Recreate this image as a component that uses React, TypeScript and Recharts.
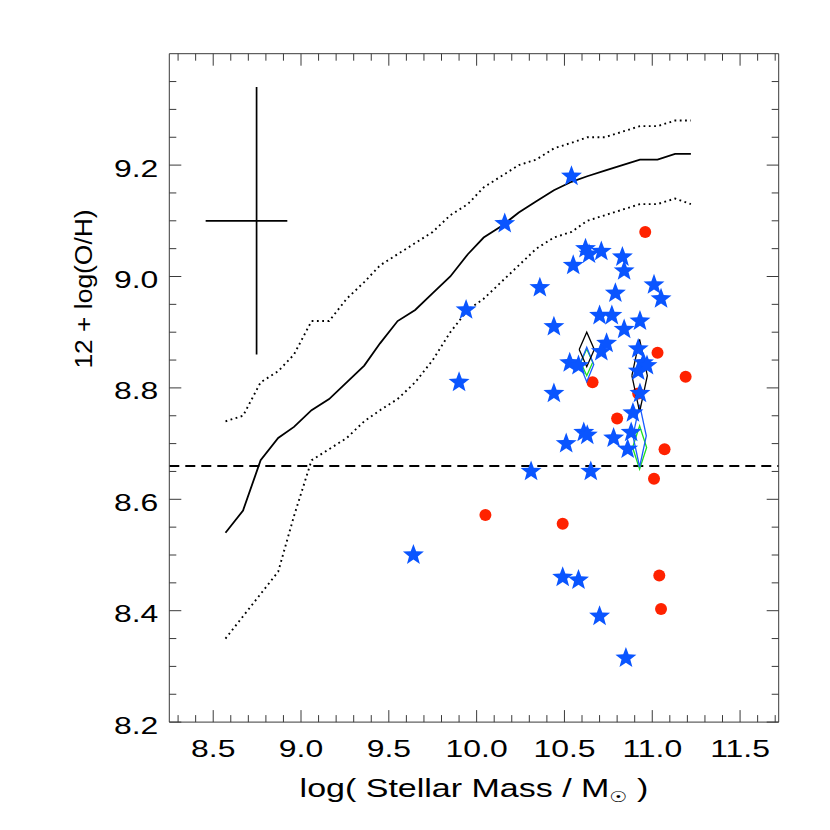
import React from 'react';
import { ScatterChart, Scatter, XAxis, YAxis, ReferenceLine, ErrorBar, Label } from 'recharts';

// mass grid of the binned relation (log M*)
const massGrid = [8.57, 8.67, 8.77, 8.87, 8.96, 9.06, 9.16, 9.26, 9.36, 9.45, 9.55, 9.65, 9.75, 9.85,
  9.95, 10.04, 10.14, 10.24, 10.34, 10.44, 10.54, 10.63, 10.73, 10.83, 10.93, 11.03, 11.13, 11.22];
const medianOH = [8.54, 8.58, 8.67, 8.71, 8.73, 8.76, 8.78, 8.81, 8.84, 8.88, 8.92, 8.94, 8.97, 9.0,
  9.04, 9.07, 9.09, 9.115, 9.135, 9.155, 9.17, 9.18, 9.19, 9.2, 9.21, 9.21, 9.22, 9.22];
const upperOH = [8.74, 8.75, 8.81, 8.83, 8.86, 8.92, 8.92, 8.96, 8.99, 9.02, 9.04, 9.06, 9.08, 9.11,
  9.13, 9.16, 9.18, 9.2, 9.21, 9.23, 9.24, 9.25, 9.25, 9.26, 9.27, 9.27, 9.28, 9.28];
const lowerOH = [8.35, 8.39, 8.43, 8.47, 8.57, 8.67, 8.69, 8.71, 8.74, 8.76, 8.78, 8.81, 8.85, 8.9,
  8.94, 8.96, 8.99, 9.02, 9.05, 9.07, 9.08, 9.1, 9.11, 9.12, 9.13, 9.13, 9.14, 9.13];

// blue stars
const starMass = [10.16, 10.54, 9.94, 9.9, 9.64, 10.31, 10.36, 10.55, 10.62, 10.64, 10.71, 10.83, 10.84,
  11.01, 11.05, 10.79, 10.7, 10.77, 10.84, 10.93, 10.44, 10.74, 10.71, 10.92, 10.53, 10.58, 10.95, 10.92,
  10.97, 10.44, 10.93, 10.89, 10.61, 10.63, 10.51, 10.78, 10.88, 10.86, 10.65, 10.49, 10.58, 10.7, 10.85];
const starOH = [9.095, 9.18, 8.94, 8.81, 8.5, 8.65, 8.98, 9.02, 9.05, 9.04, 9.045, 9.035, 9.01,
  8.985, 8.96, 8.97, 8.93, 8.93, 8.905, 8.92, 8.91, 8.88, 8.865, 8.87, 8.845, 8.84, 8.845, 8.83,
  8.84, 8.79, 8.79, 8.755, 8.72, 8.715, 8.7, 8.71, 8.72, 8.69, 8.65, 8.46, 8.455, 8.39, 8.315];

// red circles
const dotMass = [10.96, 11.03, 11.19, 10.66, 10.8, 11.07, 11.01, 10.05, 10.49, 11.04, 11.05, 10.92];
const dotOH = [9.08, 8.863, 8.82, 8.81, 8.745, 8.69, 8.637, 8.572, 8.556, 8.463, 8.403, 8.79];

// open diamonds: centre and half sizes
const diamondMass = [10.627, 10.627, 10.627, 10.928, 10.928, 10.928];
const diamondOH = [8.846, 8.842, 8.869, 8.693, 8.714, 8.822];
const diamondDMass = [0.034, 0.04, 0.043, 0.04, 0.038, 0.044];
const diamondDOH = [0.024, 0.031, 0.031, 0.039, 0.056, 0.065];
const diamondColor = ['#1ee01e', '#1a5cff', '#000000', '#1ee01e', '#1a5cff', '#000000'];

// typical error cross (x error is asymmetric: [below, above])
const errPoint = [{ x: 8.747, y: 9.1, ex: [0.29, 0.175], ey: 0.24 }];

const solarOH = 8.66;

const xMajor = [8.5, 9.0, 9.5, 10.0, 10.5, 11.0, 11.5];
const yMajor = [8.2, 8.4, 8.6, 8.8, 9.0, 9.2];
const X_DOMAIN = [8.25, 11.72];
const Y_DOMAIN = [8.2, 9.4];

const xTicks: number[] = [];
for (let i = 0; i <= 34; i++) xTicks.push(Math.round((8.3 + i * 0.1) * 100) / 100);
const yTicks: number[] = [];
for (let i = 0; i <= 23; i++) yTicks.push(Math.round((8.2 + i * 0.05) * 100) / 100);

const isMajor = (v: number, list: number[]) => list.some(m => Math.abs(m - v) < 1e-6);

const FONT = '"Liberation Sans", Arial, sans-serif';
const AXIS = '#3a3a3a';
const STAR_BLUE = '#0a55ff';
const DOT_RED = '#ff2200';

const lineData = (ys: number[]) => massGrid.map((x, i) => ({ x, y: ys[i] }));
const pointData = (xs: number[], ys: number[]) => xs.map((x, i) => ({ x, y: ys[i] }));
const diamondData = (i: number) => {
  const x = diamondMass[i], y = diamondOH[i], dx = diamondDMass[i], dy = diamondDOH[i];
  return [
    { x: x - dx, y }, { x, y: y + dy }, { x: x + dx, y }, { x, y: y - dy }, { x: x - dx, y },
  ];
};

const Empty = () => <g />;

const StarShape = (p: any) => {
  const { cx, cy } = p;
  const pts: string[] = [];
  for (let i = 0; i < 10; i++) {
    const r = i % 2 === 0 ? 11 : 4.6;
    const a = -Math.PI / 2 + (i * Math.PI) / 5;
    pts.push(`${(cx + r * Math.cos(a)).toFixed(2)},${(cy + r * Math.sin(a)).toFixed(2)}`);
  }
  return <polygon points={pts.join(' ')} fill={STAR_BLUE} />;
};

const DotShape = (p: any) => <circle cx={p.cx} cy={p.cy} r={6} fill={DOT_RED} />;

const BottomTick = (p: any) => {
  const v = p.payload.value;
  const major = isMajor(v, xMajor);
  return (
    <g>
      <line x1={p.x} y1={p.y} x2={p.x} y2={p.y - (major ? 12 : 7)} stroke={AXIS} />
      {major && (
        <text transform={`translate(${p.x},${p.y + 35}) scale(1.33,1)`} textAnchor="middle"
          fontSize={24} fontFamily={FONT} fill="#000">{v.toFixed(1)}</text>
      )}
    </g>
  );
};

const TopTick = (p: any) => {
  const major = isMajor(p.payload.value, xMajor);
  return <line x1={p.x} y1={p.y} x2={p.x} y2={p.y + (major ? 12 : 7)} stroke={AXIS} />;
};

const LeftTick = (p: any) => {
  const v = p.payload.value;
  const major = isMajor(v, yMajor);
  return (
    <g>
      <line x1={p.x} y1={p.y} x2={p.x + (major ? 12 : 7)} y2={p.y} stroke={AXIS} />
      {major && (
        <text transform={`translate(${p.x - 11},${p.y + 11.5}) scale(1.33,1)`} textAnchor="end"
          fontSize={24} fontFamily={FONT} fill="#000">{v.toFixed(1)}</text>
      )}
    </g>
  );
};

const RightTick = (p: any) => {
  const major = isMajor(p.payload.value, yMajor);
  return <line x1={p.x} y1={p.y} x2={p.x - (major ? 12 : 7)} y2={p.y} stroke={AXIS} />;
};

const XTitle = () => (
  <text transform="translate(474,797) scale(1.36,1)" textAnchor="middle" fontSize={25}
    fontFamily={FONT} fill="#000">
    log( Stellar Mass / M
    <tspan fontSize={15} dy={5} fontFamily='"DejaVu Sans", sans-serif'>☉</tspan>
    <tspan dy={-5}> )</tspan>
  </text>
);

const YTitle = () => (
  <text transform="translate(92,289) rotate(-90) scale(1.1,1)" textAnchor="middle" fontSize={24}
    fontFamily={FONT} fill="#000">
    12 + log(O/H)
  </text>
);

export default function App() {
  return (
    <div style={{ position: 'absolute', left: 0, top: 0, width: 830, height: 830, background: '#fff' }}>
      <ScatterChart width={830} height={830}
        margin={{ top: 43.7, right: 50.3, bottom: 47.9, left: 69.3 }}>
        <XAxis xAxisId={0} dataKey="x" type="number" domain={X_DOMAIN} ticks={xTicks} interval={0}
          allowDataOverflow height={60} tickSize={0} tickMargin={0} tickLine={false}
          axisLine={{ stroke: AXIS }} tick={<BottomTick />}>
          <Label content={<XTitle />} />
        </XAxis>
        <XAxis xAxisId="top" orientation="top" dataKey="x" type="number" domain={X_DOMAIN}
          ticks={xTicks} interval={0} allowDataOverflow height={10} tickSize={0} tickMargin={0}
          tickLine={false} axisLine={{ stroke: AXIS }} tick={<TopTick />} />
        <YAxis yAxisId={0} dataKey="y" type="number" domain={Y_DOMAIN} ticks={yTicks} interval={0}
          allowDataOverflow width={100} tickSize={0} tickMargin={0} tickLine={false}
          axisLine={{ stroke: AXIS }} tick={<LeftTick />}>
          <Label content={<YTitle />} />
        </YAxis>
        <YAxis yAxisId="right" orientation="right" dataKey="y" type="number" domain={Y_DOMAIN}
          ticks={yTicks} interval={0} allowDataOverflow width={1} tickSize={0} tickMargin={0}
          tickLine={false} axisLine={{ stroke: AXIS }} tick={<RightTick />} />

        <Scatter data={lineData(upperOH)} shape={<Empty />} isAnimationActive={false}
          line={{ stroke: '#000', strokeWidth: 1.9, strokeDasharray: '1.8 3.5' }} />
        <Scatter data={lineData(lowerOH)} shape={<Empty />} isAnimationActive={false}
          line={{ stroke: '#000', strokeWidth: 1.9, strokeDasharray: '1.8 3.5' }} />
        <Scatter data={lineData(medianOH)} shape={<Empty />} isAnimationActive={false}
          line={{ stroke: '#000', strokeWidth: 1.8 }} />

        <Scatter data={errPoint} shape={<Empty />} isAnimationActive={false}>
          <ErrorBar dataKey="ex" direction="x" width={0} stroke="#000" strokeWidth={1.7} />
          <ErrorBar dataKey="ey" direction="y" width={0} stroke="#000" strokeWidth={1.7} />
        </Scatter>

        <ReferenceLine y={solarOH} stroke="#000" strokeWidth={2} strokeDasharray="10 6" />

        <Scatter data={pointData(dotMass, dotOH)} shape={<DotShape />} isAnimationActive={false} />
        {diamondMass.map((_, i) => (
          <Scatter key={`dia-${i}`} data={diamondData(i)} shape={<Empty />} isAnimationActive={false}
            line={{ stroke: diamondColor[i], strokeWidth: 1.3 }} />
        ))}
        <Scatter data={pointData(starMass, starOH)} shape={<StarShape />} isAnimationActive={false} />
      </ScatterChart>
    </div>
  );
}
